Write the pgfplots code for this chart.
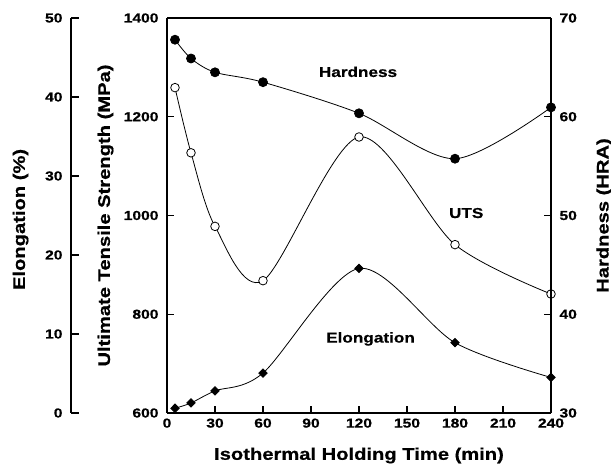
\documentclass[border=0pt]{standalone}
\usepackage{fontspec}
\setmainfont{Liberation Sans}[FakeStretch=1.2, BoldFeatures={FakeBold=0.6}]
\usepackage{pgfplots}
\pgfplotsset{compat=1.18}
\begin{document}
\begin{tikzpicture}
\useasboundingbox (0,0) rectangle (611pt,466pt);
\pgfplotsset{
 every axis/.append style={
  scale only axis, width=384pt, height=395pt,
  anchor=south west,
  /pgf/number format/assume math mode=true,
  /pgf/number format/1000 sep={},
  scaled ticks=false,
  tick label style={font=\fontsize{13}{13}\selectfont\bfseries},
  label style={font=\fontsize{16.8}{16.8}\selectfont\bfseries},
  separate axis lines,
  axis line style={line width=1.2pt},
  major tick style={line width=1.2pt, black},
  major tick length=7pt,
  minor tick num=0,
  xmin=0, xmax=240,
 },
 every axis plot/.append style={line width=0.8pt, black, smooth},
}
% main UTS axis
\begin{axis}[at={(167pt,53pt)},
 ymin=600, ymax=1400, ytick={600,800,...,1400}, xtick={0,30,...,240},
 tick align=inside, xtick pos=bottom, ytick pos=left,
 yticklabel style={xshift=-5pt},
 xticklabel style={yshift=-2pt},
 ylabel={Ultimate Tensile Strength (MPa)},
 ylabel style={at={(axis description cs:-0.1302,0.5)}, anchor=south},
 xlabel={Isothermal Holding Time (min)},
 xlabel style={yshift=-13pt},
]
\addplot[mark=*, mark size=4.3pt, mark options={fill=white, line width=0.8pt}] coordinates {
 (5,1259) (15,1127) (30,978) (60,868) (120,1159) (180,941) (240,841)};
\node[font=\fontsize{14.3}{14.3}\selectfont\bfseries] at (axis cs:119.4,1291) {Hardness};
\node[font=\fontsize{14.3}{14.3}\selectfont\bfseries] at (axis cs:187,1005) {UTS};
\node[font=\fontsize{14.3}{14.3}\selectfont\bfseries] at (axis cs:127.2,750) {Elongation};
\end{axis}
% hardness axis
\begin{axis}[at={(167pt,53pt)},
 ymin=30, ymax=70, ytick={30,40,...,70},
 axis y line*=right, hide x axis, tick align=inside,
 yticklabel style={xshift=5pt},
 ylabel={Hardness (HRA)},
 ylabel style={at={(axis description cs:1.109,0.5)}, anchor=north},
]
\addplot[mark=*, mark size=4.5pt, mark options={fill=black}] coordinates {
 (5,67.8) (15,65.9) (30,64.5) (60,63.5) (120,60.35) (180,55.75) (240,60.95)};
\end{axis}
% elongation data
\begin{axis}[at={(167pt,53pt)},
 ymin=0, ymax=50, hide axis,
]
\addplot[mark=diamond*, mark size=4.2pt, mark options={fill=black, xscale=1.33}] coordinates {
 (5,0.6) (15,1.27) (30,2.8) (60,5.06) (120,18.3) (180,8.9) (240,4.5)};
\end{axis}
% elongation scale
\begin{axis}[at={(71pt,53pt)}, width=1pt, xmin=0, xmax=1,
 ymin=0, ymax=50, ytick={0,10,...,50},
 axis y line*=left, hide x axis, tick align=inside, major tick length=8pt,
 yticklabel style={xshift=-5pt},
 ylabel={Elongation (\%)},
 ylabel style={at={(axis description cs:-39,0.49)}, anchor=south},
]
\addplot[draw=none] coordinates {(0,0)};
\end{axis}
\end{tikzpicture}
\end{document}
